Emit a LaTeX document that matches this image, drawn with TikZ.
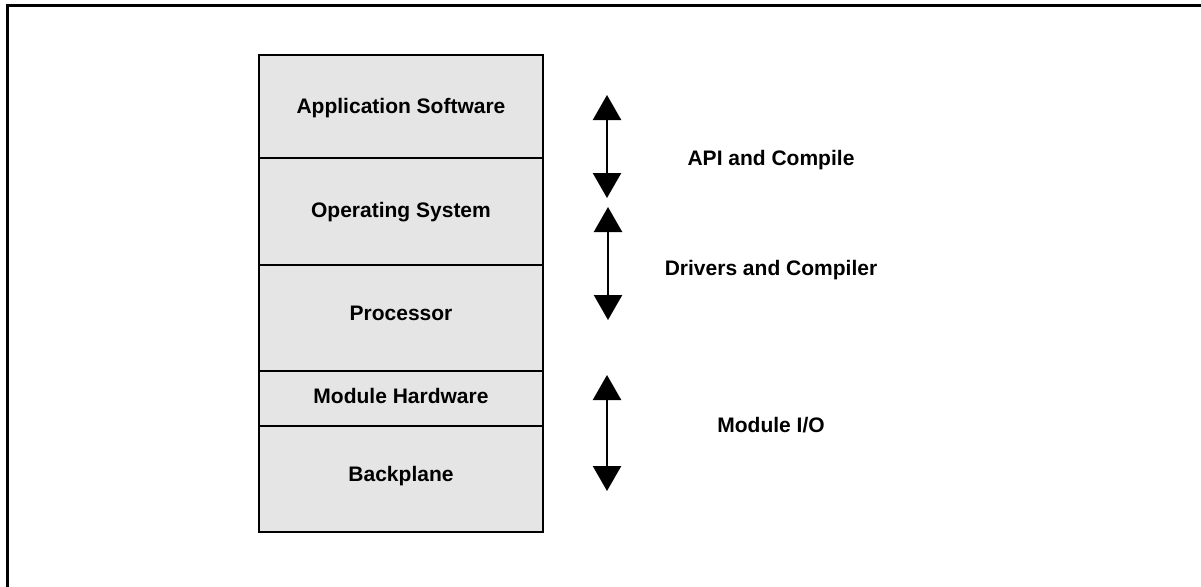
\documentclass[tikz,border=0pt]{standalone}
\usepackage{fontspec}
\setmainfont{Liberation Sans}
\usetikzlibrary{arrows.meta}
\definecolor{boxgray}{HTML}{E5E5E5}
\begin{document}
\begin{tikzpicture}[x=1pt,y=-1pt,
  layer/.style={rectangle, draw=black, line width=2.5pt, fill=boxgray, minimum width=284pt, inner sep=0pt},
  lbl/.style={font=\fontsize{21}{25}\selectfont\bfseries, anchor=base, inner sep=0pt},
  dblarrow/.style={line width=2.5pt, {Triangle[width=28pt,length=25pt]}-{Triangle[width=28pt,length=25pt]}}]
\useasboundingbox (0,0) rectangle (1201,586);
% frame
\coordinate (fbl) at (7,590);
\coordinate (ftl) at (7,6);
\coordinate (ftr) at (1205,6);
\draw[line width=3pt] (fbl) -- (ftl) -- (ftr);
% stack
\node[layer, minimum height=103pt] (app) at (401,106.5) {};
\node[layer, minimum height=107pt] (os) at (401,211.5) {};
\node[layer, minimum height=106pt] (proc) at (401,318) {};
\node[layer, minimum height=55pt] (mh) at (401,398.5) {};
\node[layer, minimum height=106pt] (bp) at (401,479) {};
\node[lbl] (tapp) at (401,113) {Application Software};
\node[lbl] (tos) at (401,217) {Operating System};
\node[lbl] (tproc) at (401,320) {Processor};
\node[lbl] (tmh) at (401,403) {Module Hardware};
\node[lbl] (tbp) at (401,481) {Backplane};
% arrows
\coordinate (a1t) at (607,95);
\coordinate (a1b) at (607,198);
\coordinate (a2t) at (608,207);
\coordinate (a2b) at (608,320);
\coordinate (a3t) at (607,375);
\coordinate (a3b) at (607,491);
\draw[dblarrow] (a1t) -- (a1b);
\draw[dblarrow] (a2t) -- (a2b);
\draw[dblarrow] (a3t) -- (a3b);
% labels
\node[lbl] (lapi) at (771,165) {API and Compile};
\node[lbl] (ldrv) at (771,275) {Drivers and Compiler};
\node[lbl] (lmio) at (771,432) {Module I/O};
\end{tikzpicture}
\end{document}
